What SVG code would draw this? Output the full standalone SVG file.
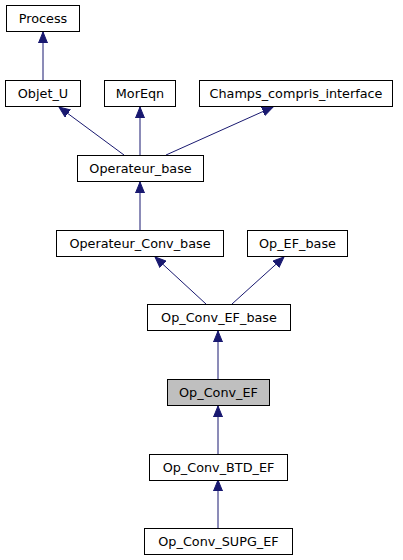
<svg xmlns="http://www.w3.org/2000/svg" width="403" height="560" viewBox="0 0 403 560">
<style>
.n rect{fill:#fff;stroke:#000;stroke-width:1}
.n text{font-family:"DejaVu Sans",sans-serif;font-size:12.8px;text-anchor:middle;fill:#000}
.e{stroke:#191970;stroke-width:1;fill:none;marker-end:url(#ah)}
</style>
<defs>
<marker id="ah" markerUnits="userSpaceOnUse" markerWidth="12" markerHeight="10" refX="11" refY="5" orient="auto">
<path d="M0,0.5 L11,5 L0,9.5 Z" fill="#191970" stroke="#191970" stroke-width="1"/>
</marker>
</defs>
<rect width="403" height="560" fill="#fff"/>
<g id="edges">
<path class="e" d="M43,80 L43,32"/>
<path class="e" d="M124,155 L59,107"/>
<path class="e" d="M140,155 L140,107"/>
<path class="e" d="M166,155 L273,107"/>
<path class="e" d="M140,230 L140,182"/>
<path class="e" d="M206,304 L155,257"/>
<path class="e" d="M232,304 L284,257"/>
<path class="e" d="M218,379 L218,331"/>
<path class="e" d="M218,454 L218,406"/>
<path class="e" d="M218,528 L218,480"/>
</g>
<g id="Process" class="n"><rect x="6.5" y="5.5" width="73" height="26"/><text x="43" y="22.5">Process</text></g>
<g id="Objet_U" class="n"><rect x="5.5" y="80.5" width="75" height="26"/><text x="43" y="97.5">Objet_U</text></g>
<g id="MorEqn" class="n"><rect x="104.5" y="80.5" width="71" height="26"/><text x="140" y="97.5">MorEqn</text></g>
<g id="Champs_compris_interface" class="n"><rect x="199.5" y="80.5" width="193" height="26"/><text x="296" y="97.5">Champs_compris_interface</text></g>
<g id="Operateur_base" class="n"><rect x="77.5" y="155.5" width="126" height="26"/><text x="140.5" y="172.5">Operateur_base</text></g>
<g id="Operateur_Conv_base" class="n"><rect x="56.5" y="230.5" width="167" height="26"/><text x="140" y="247.5">Operateur_Conv_base</text></g>
<g id="Op_EF_base" class="n"><rect x="247.5" y="230.5" width="100" height="26"/><text x="297.5" y="247.5">Op_EF_base</text></g>
<g id="Op_Conv_EF_base" class="n"><rect x="147.5" y="304.5" width="143" height="26"/><text x="219" y="321.5">Op_Conv_EF_base</text></g>
<g id="Op_Conv_EF" class="n"><rect x="167.5" y="379.5" width="102" height="26" style="fill:#bfbfbf"/><text x="218.5" y="396.5">Op_Conv_EF</text></g>
<g id="Op_Conv_BTD_EF" class="n"><rect x="149.5" y="454.5" width="138" height="26"/><text x="218.5" y="471.5">Op_Conv_BTD_EF</text></g>
<g id="Op_Conv_SUPG_EF" class="n"><rect x="144.5" y="528.5" width="148" height="26"/><text x="218.5" y="545.5">Op_Conv_SUPG_EF</text></g>
</svg>
